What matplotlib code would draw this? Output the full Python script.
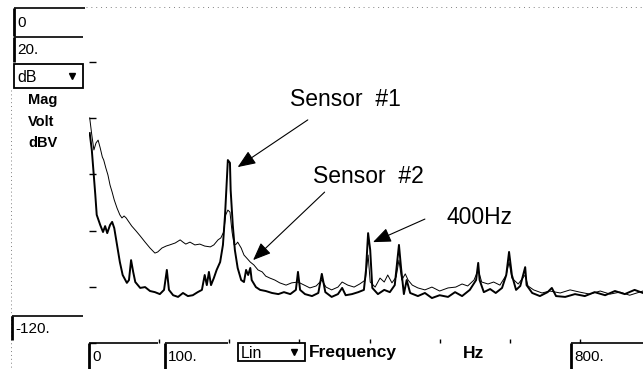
import matplotlib.pyplot as plt
from matplotlib.patches import Rectangle

# Sensor #1 spectrum (bold trace), frequency in Hz, level in dB
freq1 = [1, 4, 9, 11, 16, 20, 23, 26, 30, 33, 36, 40, 44, 48, 54, 57, 60, 63, 66, 73,
         80, 87, 94, 101, 107, 111, 114, 120, 127, 134, 141, 148, 155, 161, 165, 168, 171, 174, 178, 182,
         187, 191, 194, 197, 198, 201, 202, 205, 208, 212, 217, 221, 224, 227, 230, 232, 238, 244, 252, 261,
         270, 278, 287, 295, 298, 301, 308, 318, 327, 332, 337, 346, 355, 361, 366, 375, 384, 392, 395, 398,
         401, 404, 412, 421, 429, 436, 439, 442, 445, 449, 453, 458, 469, 479, 489, 500, 512, 522, 532, 543,
         552, 555, 557, 563, 572, 580, 589, 595, 599, 603, 609, 615, 619, 622, 624, 632, 643, 654, 660, 666,
         679, 693, 707, 721, 736, 750, 764, 778, 790]
level1 = [-25.3, -31.3, -47.3, -54.4, -58.0, -60.5, -58.4, -60.9, -58.0, -56.9, -59.1, -65.1, -71.2, -75.8, -78.6, -77.6, -70.5, -74.7, -78.3, -80.4,
          -80.1, -81.5, -81.9, -82.6, -81.1, -74.0, -81.1, -83.0, -83.6, -82.2, -83.3, -83.0, -81.9, -81.1, -75.8, -79.4, -74.7, -79.4, -76.9, -74.0,
          -71.2, -65.1, -54.4, -40.2, -34.9, -35.9, -45.6, -58.0, -66.9, -73.3, -77.6, -78.3, -74.0, -75.8, -73.3, -77.6, -80.1, -81.1, -81.5, -82.2,
          -82.6, -81.9, -82.6, -81.1, -74.7, -81.1, -82.6, -83.3, -82.2, -75.4, -81.9, -83.6, -82.6, -80.4, -83.0, -82.6, -81.9, -81.1, -74.0, -60.9,
          -66.9, -80.4, -82.6, -81.1, -81.9, -79.4, -72.2, -65.1, -73.3, -82.6, -77.6, -82.2, -83.3, -82.2, -84.0, -83.0, -83.6, -81.9, -83.3, -81.1,
          -77.6, -71.5, -77.6, -81.9, -80.8, -82.2, -80.4, -75.8, -67.6, -75.8, -81.1, -79.7, -75.8, -73.0, -79.4, -82.2, -83.3, -81.9, -80.4, -83.3,
          -83.6, -82.6, -83.3, -81.9, -83.0, -81.5, -82.6, -81.1, -82.2]

# Sensor #2 spectrum (thin trace)
freq2 = [1, 4, 7, 10, 13, 16, 19, 21, 24, 27, 30, 33, 36, 40, 44, 47, 50, 53, 56, 61,
         67, 73, 80, 87, 94, 98, 104, 110, 115, 123, 130, 134, 138, 144, 151, 158, 165, 173, 178, 184,
         188, 192, 195, 198, 201, 204, 207, 210, 212, 217, 221, 225, 230, 235, 241, 247, 252, 258, 265, 272,
         281, 289, 298, 307, 315, 324, 332, 338, 346, 355, 361, 369, 378, 386, 394, 398, 401, 408, 415, 421,
         426, 432, 438, 442, 446, 451, 455, 461, 469, 479, 489, 500, 512, 523, 532, 540, 549, 555, 560, 569,
         577, 586, 595, 599, 603, 612, 622, 626, 634, 646, 657, 672, 686, 700, 714, 729, 743, 757, 771, 790]
level2 = [-19.9, -26.0, -31.3, -28.8, -27.8, -30.6, -33.8, -34.9, -37.7, -40.2, -43.8, -46.3, -49.1, -52.0, -54.4, -55.5, -54.8, -55.5, -56.6, -58.4,
          -60.1, -61.9, -64.1, -66.2, -68.0, -67.6, -66.2, -65.5, -65.1, -64.4, -63.3, -64.1, -64.8, -64.1, -65.1, -64.8, -65.5, -65.8, -65.1, -63.3,
          -62.6, -60.5, -54.4, -52.7, -53.4, -60.5, -65.1, -64.8, -64.1, -66.2, -68.7, -69.8, -71.2, -72.2, -74.0, -74.7, -76.2, -76.9, -77.6, -78.6,
          -79.4, -78.6, -78.3, -79.4, -80.4, -79.7, -77.6, -80.1, -81.1, -80.1, -78.3, -79.4, -80.1, -79.0, -77.6, -68.7, -78.3, -80.1, -76.9, -78.3,
          -75.8, -78.6, -76.5, -70.5, -77.6, -75.4, -77.6, -79.4, -80.4, -81.1, -80.1, -81.5, -80.4, -80.1, -79.0, -79.7, -77.6, -74.0, -78.3, -79.0,
          -78.3, -79.4, -75.8, -71.2, -76.9, -79.0, -75.8, -79.7, -81.1, -82.2, -81.5, -82.2, -81.1, -81.9, -82.6, -81.5, -82.6, -81.9, -83.0, -81.5]

x_ticks = [100, 200, 300, 400, 500, 600, 700]
y_ticks = [0, -20, -40, -60, -80, -100]

plt.rcParams['font.family'] = ['Liberation Sans', 'DejaVu Sans']

fig = plt.figure(figsize=(6.43, 3.69), dpi=100)

# overlay in pixel units for the instrument panel widgets
ui = fig.add_axes([0, 0, 1, 1])
ui.set_xlim(0, 643)
ui.set_ylim(369, 0)
ui.axis('off')


def sunken(x0, y0, x1, y1, label):
    ui.plot([x0, x0], [y1, y0], color='black', lw=2, solid_capstyle='butt')
    ui.plot([x0, x1], [y0, y0], color='black', lw=1.2, solid_capstyle='butt')
    ui.text(x0 + 3, (y0 + y1) / 2 + 1, label, fontsize=11, ha='left', va='center')


def dropdown(x0, y0, x1, y1, label):
    ui.add_patch(Rectangle((x0, y0), x1 - x0, y1 - y0, fill=False, ec='black', lw=1.3))
    ui.text(x0 + 3, (y0 + y1) / 2 + 1, label, fontsize=11.5, ha='left', va='center')
    ui.plot(x1 - 11, (y0 + y1) / 2, marker='v', ms=5, color='black')


ui.plot([86, 643], [7, 7], color='gray', lw=0.7, ls=(0, (1, 4)))
ui.plot([11, 11], [90, 369], color='gray', lw=0.7, ls=(0, (1, 3)))

sunken(14, 8, 85, 36, '0')
sunken(14, 37, 83, 62, '20.')
dropdown(14, 64, 83, 88, 'dB')
for y, s in zip([100, 122, 143], ['Mag', 'Volt', 'dBV']):
    ui.text(28, y, s, fontsize=10.5, fontweight='bold', ha='left', va='center')
sunken(12, 316, 83, 340, '-120.')

sunken(89, 343, 158, 369, '0')
sunken(165, 343, 228, 369, '100.')
dropdown(238, 343, 305, 361, 'Lin')
ui.text(309, 353, 'Frequency', fontsize=12.5, fontweight='bold', ha='left', va='center')
ui.text(463, 353, 'Hz', fontsize=12.5, fontweight='bold', ha='left', va='center')
sunken(571, 343, 643, 369, '800.')

# spectrum plot
ax = fig.add_axes([89 / 643, 26 / 369, 554 / 643, 281 / 369])
ax.patch.set_alpha(0)
ax.plot(freq2, level2, color='black', lw=0.7)
ax.plot(freq1, level1, color='black', lw=1.4)
ax.set_xlim(0, 790)
ax.set_ylim(-100, 0)
for s in ax.spines.values():
    s.set_visible(False)
ax.set_xticks(x_ticks)
ax.set_yticks(y_ticks)
ax.tick_params(axis='y', direction='in', length=5, width=1, labelleft=False)
ax.tick_params(axis='x', direction='in', length=3, width=1, labelbottom=False)

arrow = dict(arrowstyle='-|>,head_length=1.1,head_width=0.45', color='black',
             lw=0.8, shrinkA=0, shrinkB=0, mutation_scale=10)
ax.text(365, -13.5, 'Sensor  #1', fontsize=16.5, ha='center', va='center')
ax.annotate('', xy=(212, -37.4), xytext=(312, -20.6), arrowprops=arrow)
ax.text(398, -40.9, 'Sensor  #2', fontsize=16.5, ha='center', va='center')
ax.annotate('', xy=(234, -70.5), xytext=(336, -46.3), arrowprops=arrow)
ax.text(557, -55.2, '400Hz', fontsize=16.5, ha='center', va='center')
ax.annotate('', xy=(405, -64.1), xytext=(479, -55.9), arrowprops=arrow)

fig.savefig('out.png', dpi=100)
